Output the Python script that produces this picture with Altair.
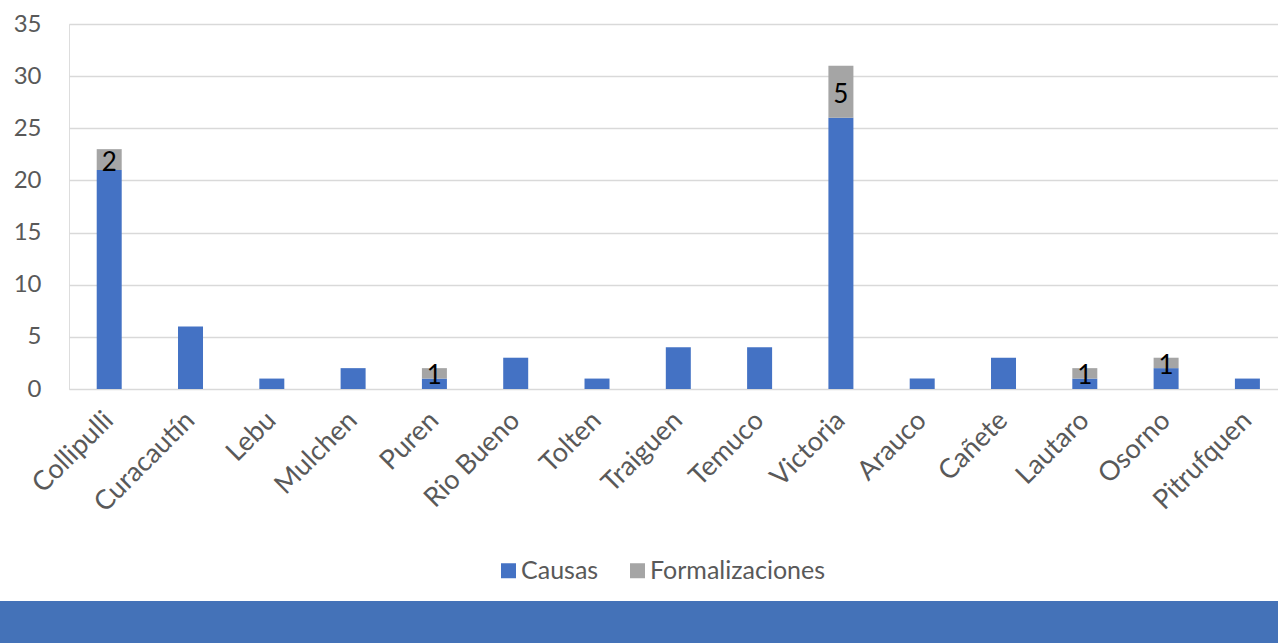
import altair as alt
import pandas as pd

# Comunas and counts per series
comunas = ["Collipulli", "Curacautín", "Lebu", "Mulchen", "Puren", "Rio Bueno",
           "Tolten", "Traiguen", "Temuco", "Victoria", "Arauco", "Cañete",
           "Lautaro", "Osorno", "Pitrufquen"]
causas = [21, 6, 1, 2, 1, 3, 1, 4, 4, 26, 1, 3, 1, 2, 1]
formalizaciones = [2, 0, 0, 0, 1, 0, 0, 0, 0, 5, 0, 0, 1, 1, 0]
series = ["Causas", "Formalizaciones"]
colors = ["#4472C4", "#A5A5A5"]

# Long table with stacked segment bounds
rows = []
for c, a, f in zip(comunas, causas, formalizaciones):
    rows.append({"comuna": c, "serie": series[0], "valor": a, "lo": 0, "hi": a})
    if f > 0:
        rows.append({"comuna": c, "serie": series[1], "valor": f, "lo": a, "hi": a + f})
df = pd.DataFrame(rows)
df["mid"] = (df["lo"] + df["hi"]) / 2

FONT = "Lato"
GRAY = "#595959"
W, H = 1209, 365

x_enc = alt.X(
    "comuna:N",
    sort=comunas,
    title=None,
    scale=alt.Scale(paddingInner=0.6925, paddingOuter=0.2817, align=0.605),
    axis=alt.Axis(labelAngle=-45, labelAlign="right", labelBaseline="middle",
                  labelFontSize=27, labelColor=GRAY, labelFont=FONT,
                  labelPadding=27, labelLimit=0, domain=False, ticks=False,
                  grid=False),
)
y_scale = alt.Scale(domain=[0, 35], nice=False)

bars = alt.Chart(df).mark_bar().encode(
    x=x_enc,
    y=alt.Y("lo:Q", scale=y_scale, title=None,
            axis=alt.Axis(values=list(range(0, 36, 5)), labelFontSize=24,
                          labelColor=GRAY, labelFont=FONT, labelPadding=28,
                          domain=False, ticks=False, gridColor="#D9D9D9",
                          gridWidth=1.5)),
    y2="hi:Q",
    color=alt.Color("serie:N", scale=alt.Scale(domain=series, range=colors),
                    legend=alt.Legend(title=None, orient="none", legendX=427,
                                      legendY=534, direction="horizontal",
                                      symbolType="square", symbolSize=225,
                                      symbolStrokeWidth=0, labelFontSize=25,
                                      labelColor=GRAY, labelFont=FONT,
                                      labelLimit=0, labelOffset=0,
                                      columnPadding=26)),
)

labels = alt.Chart(df[df["serie"] == series[1]]).mark_text(
    font=FONT, fontSize=26, color="black", baseline="middle", dy=3
).encode(
    x=alt.X("comuna:N", sort=comunas),
    y=alt.Y("mid:Q", scale=y_scale),
    text="valor:Q",
)

banner = alt.Chart(pd.DataFrame({"b": [0]})).mark_rect(color="#4472B8").encode(
    x=alt.value(-69), x2=alt.value(W), y=alt.value(577), y2=alt.value(620)
)

chart = alt.layer(bars, labels, banner).properties(
    width=W, height=H,
    autosize=alt.AutoSizeParams(type="none"),
    padding={"left": 69, "top": 24, "right": 0, "bottom": 254},
).configure_view(stroke=None).configure(background="white")

chart.save("out.html", embed_options={"renderer": "svg", "actions": False})
